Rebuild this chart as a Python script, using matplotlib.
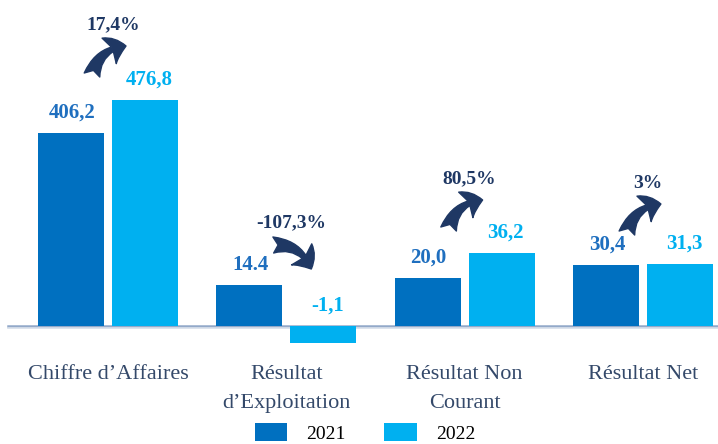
import matplotlib
matplotlib.use("Agg")
import matplotlib.pyplot as plt
from matplotlib.patches import FancyArrowPatch
import numpy as np

# data (the original chart is not drawn to scale,
# so the bar heights are kept apart from the printed values)
categories = ["Chiffre d\u2019Affaires", "R\u00e9sultat\nd\u2019Exploitation",
              "R\u00e9sultat Non\nCourant", "R\u00e9sultat Net"]
val_2021 = ["406,2", "14.4", "20,0", "30,4"]
val_2022 = ["476,8", "-1,1", "36,2", "31,3"]
bar_h_2021 = [193, 41, 48, 61]
bar_h_2022 = [226, -17, 73, 62]
growth = ["17,4%", "-107,3%", "80,5%", "3%"]
growth_up = [True, False, True, True]

c2021 = "#0070C0"
c2022 = "#00B0F0"
navy = "#1F3864"
txt = "#34496A"

plt.rcParams["font.family"] = ["Liberation Serif", "DejaVu Serif"]

fig = plt.figure(figsize=(7.18, 4.44), dpi=100)
ax = fig.add_axes([0, 0, 1, 1])

# 1 y unit = 1 pixel, baseline at 326 px from the top
ax.set_ylim(-118, 326)
step = 178.3
ax.set_xlim(-108 / step, (718 - 108) / step)
ax.axis("off")

x = np.arange(len(categories))
w = 66 / step
off = 37 / step

b1 = ax.bar(x - off, bar_h_2021, w, color=c2021, label="2021", zorder=2)
b2 = ax.bar(x + off, bar_h_2022, w, color=c2022, label="2022", zorder=2)

# base line
ax.axhline(0, xmin=8 / 718, color="#93A9C9", lw=1.8, zorder=1)
ax.axhline(-2, xmin=8 / 718, color="#D5DEEA", lw=1.2, zorder=1)

for i in range(len(categories)):
    ax.text(x[i] - off + 1 / step, max(bar_h_2021[i], 0) + 20, val_2021[i],
            ha="center", va="center", fontsize=15, fontweight="bold", color="#1F6FBF")
    ax.text(x[i] + off + 4 / step, max(bar_h_2022[i], 0) + 20, val_2022[i],
            ha="center", va="center", fontsize=15, fontweight="bold", color=c2022)

    lines = categories[i].split("\n")
    for k, line in enumerate(lines):
        ax.text(x[i], -53 - 29 * k, line, ha="center", va="baseline",
                fontsize=16, color=txt)

# growth labels with curved arrows
pct_off = [75, 62, 74, 81]
for i in range(len(categories)):
    top = max(bar_h_2021[i], bar_h_2022[i], 0)
    cx = x[i] + 5 / step
    cy = top + pct_off[i]
    ax.text(cx, cy, growth[i], ha="center", va="center", fontsize=14,
            fontweight="bold", color=navy)
    if growth_up[i]:
        pa = (cx - 21 / step, cy - 50)
        pb = (cx + 13 / step, cy - 21)
    else:
        pa = (cx - 18 / step, cy - 22)
        pb = (cx + 20 / step, cy - 46)
    arr = FancyArrowPatch(pa, pb, connectionstyle="arc3,rad=-0.35",
                          arrowstyle="fancy,head_length=0.6,head_width=1.0,tail_width=0.55",
                          mutation_scale=21, color=navy, shrinkA=0, shrinkB=0, zorder=3)
    ax.add_patch(arr)

leg = ax.legend(handles=[b1, b2], loc="center", bbox_to_anchor=(365 / 718, 11 / 444),
                ncol=2, frameon=False, fontsize=14, handlelength=1.65, handleheight=1.0,
                handletextpad=1.0, columnspacing=2.0, borderpad=0)

fig.savefig("out.png", dpi=100)
